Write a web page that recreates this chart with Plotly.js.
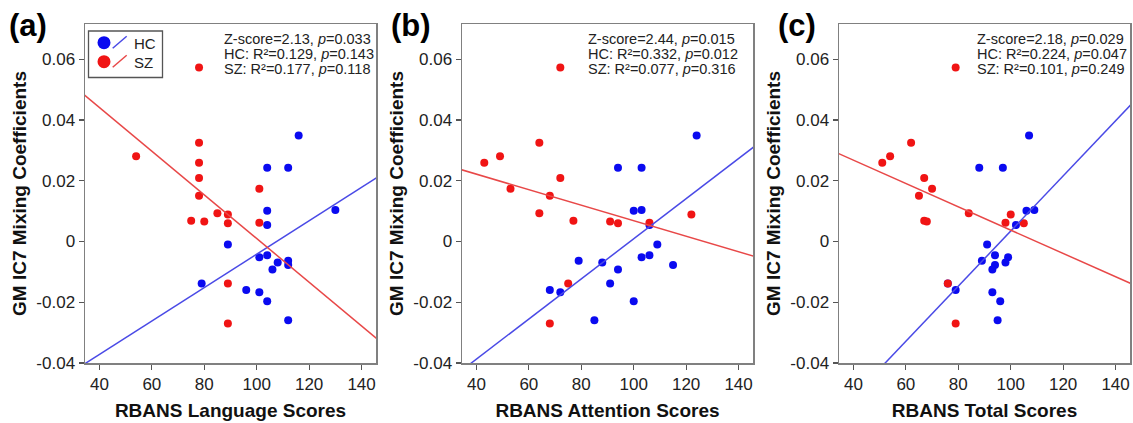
<!DOCTYPE html>
<html>
<head>
<meta charset="utf-8">
<script src="https://cdn.plot.ly/plotly-3.0.1.min.js"></script>
<style>html,body{margin:0;padding:0;background:#fff;}#chart{width:1133px;height:423px;}</style>
</head>
<body>
<div id="chart"></div>
<script>
// ---- Data ----
// GM IC7 mixing coefficients (same subjects in all panels)
const hcCoef = [0.0349, 0.0243, 0.0243, 0.0104, 0.0101, 0.0054, -0.0010, -0.0045, -0.0052, -0.0063, -0.0069, -0.0077, -0.0092, -0.0138, -0.0160, -0.0167, -0.0197, -0.0259];
const hcLanguage  = [116, 104, 112, 130, 104, 104, 89, 104, 101, 112, 108, 112, 106, 79, 96, 101, 104, 112];
const hcAttention = [124, 94, 103, 103, 100, 106, 109, 106, 103, 79, 88, 115, 94, 91, 68, 72, 100, 85];
const hcTotal     = [107, 88, 97, 109, 106, 102, 91, 94, 99, 89, 98, 94, 93, 76, 79, 93, 96, 95];

const szCoef = [0.0573, 0.0325, 0.0281, 0.0259, 0.0209, 0.0174, 0.0151, 0.0093, 0.0089, 0.0068, 0.0066, 0.0062, 0.0060, -0.0138, -0.0270];
const szLanguage  = [78, 78, 54, 78, 78, 101, 78, 85, 89, 75, 80, 101, 89, 89, 89];
const szAttention = [72, 64, 49, 43, 72, 53, 68, 64, 122, 77, 91, 106, 94, 75, 68];
const szTotal     = [79, 62, 54, 51, 67, 70, 65, 84, 100, 67, 68, 98, 105, 76, 79];

const panelLetters = ['(a)', '(b)', '(c)'];
const xTitles = ['RBANS Language Scores', 'RBANS Attention Scores', 'RBANS Total Scores'];
const yTitle = 'GM IC7 Mixing Coefficients';
const zScore = ['2.13', '2.44', '2.18'];
const zP     = ['0.033', '0.015', '0.029'];
const hcR2   = ['0.129', '0.332', '0.224'];
const hcP    = ['0.143', '0.012', '0.047'];
const szR2   = ['0.177', '0.077', '0.101'];
const szP    = ['0.118', '0.316', '0.249'];

const xTickVals = [40, 60, 80, 100, 120, 140];
const yTickVals = [-0.04, -0.02, 0, 0.02, 0.04, 0.06];
const yTickText = ['-0.04', '-0.02', '0', '0.02', '0.04', '0.06'];
const groupNames = ['HC', 'SZ'];

// ---- Styling ----
const W = 1133, H = 423;
const FONT = 'Liberation Sans, Arial, Helvetica, sans-serif';
const BLUE = '#0a0af0', RED = '#f01414';
const BLUE_LINE = '#4a4ae6', RED_LINE = '#e84848';
const X_RANGE = [34.5, 145.5], Y_RANGE = [-0.04, 0.0716];
const px = x => x / W;
const py = y => 1 - y / H;
const plotLeft = [85, 462, 839], plotWidth = 291, plotTop = 24, plotBottom = 363;
const statsX = [0.470, 0.427, 0.466];

function fit(xs, ys) {
  const n = xs.length;
  const mx = xs.reduce((a, b) => a + b, 0) / n;
  const my = ys.reduce((a, b) => a + b, 0) / n;
  let sxy = 0, sxx = 0;
  for (let i = 0; i < n; i++) { sxy += (xs[i] - mx) * (ys[i] - my); sxx += (xs[i] - mx) ** 2; }
  const b = sxy / sxx, a = my - b * mx;
  const lx = [X_RANGE[0] - 5, X_RANGE[1] + 5];
  return { x: lx, y: lx.map(v => a + b * v) };
}

const hcX = [hcLanguage, hcAttention, hcTotal];
const szX = [szLanguage, szAttention, szTotal];

const traces = [];
const layout = {
  width: W, height: H,
  margin: { l: 0, r: 0, t: 0, b: 0, pad: 0 },
  paper_bgcolor: '#fff', plot_bgcolor: '#fff',
  showlegend: false,
  font: { family: FONT, color: '#222' },
  annotations: [], shapes: []
};

for (let p = 0; p < 3; p++) {
  const sfx = p === 0 ? '' : String(p + 1);
  const xa = 'x' + sfx, ya = 'y' + sfx;
  traces.push({ type: 'scatter', mode: 'markers', name: groupNames[0], x: hcX[p], y: hcCoef, xaxis: xa, yaxis: ya,
    marker: { color: BLUE, size: 8 }, hoverinfo: 'x+y' });
  traces.push({ type: 'scatter', mode: 'markers', name: groupNames[1], x: szX[p], y: szCoef, xaxis: xa, yaxis: ya,
    marker: { color: RED, size: 8 }, hoverinfo: 'x+y' });
  const fh = fit(hcX[p], hcCoef), fs = fit(szX[p], szCoef);
  traces.push({ type: 'scatter', mode: 'lines', name: groupNames[0] + ' fit', x: fh.x, y: fh.y, xaxis: xa, yaxis: ya,
    line: { color: BLUE_LINE, width: 1.5 }, hoverinfo: 'skip' });
  traces.push({ type: 'scatter', mode: 'lines', name: groupNames[1] + ' fit', x: fs.x, y: fs.y, xaxis: xa, yaxis: ya,
    line: { color: RED_LINE, width: 1.5 }, hoverinfo: 'skip' });

  layout['xaxis' + sfx] = {
    domain: [px(plotLeft[p]), px(plotLeft[p] + plotWidth)], range: X_RANGE, anchor: ya,
    tickmode: 'array', tickvals: xTickVals, ticks: 'outside', ticklen: 5, tickwidth: 1.2, tickcolor: '#555',
    showline: true, mirror: true, linecolor: '#808080', linewidth: 1.5,
    showgrid: false, zeroline: false,
    tickfont: { family: FONT, size: 17, color: '#222' },
    title: { text: xTitles[p], font: { family: FONT, size: 19, color: '#111', weight: 'bold' }, standoff: 11 }
  };
  layout['yaxis' + sfx] = {
    domain: [py(plotBottom), py(plotTop)], range: Y_RANGE, anchor: xa,
    tickmode: 'array', tickvals: yTickVals, ticktext: yTickText, ticks: 'outside', ticklen: 5, tickwidth: 1.2, tickcolor: '#555',
    showline: true, mirror: true, linecolor: '#808080', linewidth: 1.5,
    showgrid: false, zeroline: false,
    tickfont: { family: FONT, size: 17, color: '#222' },
    title: { text: yTitle, font: { family: FONT, size: 19, color: '#111', weight: 'bold' }, standoff: 4 }
  };

  const statLines = [
    'Z-score=' + zScore[p] + ', <i>p</i>=' + zP[p],
    'HC: R\u00b2=' + hcR2[p] + ', <i>p</i>=' + hcP[p],
    'SZ: R\u00b2=' + szR2[p] + ', <i>p</i>=' + szP[p]
  ];
  const lineY = [39, 54.3, 69.3];
  statLines.forEach((t, i) => {
    layout.annotations.push({
      xref: xa + ' domain', yref: 'paper', x: statsX[p], y: py(lineY[i]),
      xanchor: 'left', yanchor: 'middle', align: 'left', showarrow: false,
      text: t, font: { family: FONT, size: 14.5, color: '#222' }
    });
  });

  // panel letter
  const letterX = [28, 411, 797];
  layout.annotations.push({
    xref: 'paper', yref: 'paper', x: px(letterX[p]), y: py(26), xanchor: 'center', yanchor: 'middle',
    showarrow: false, text: panelLetters[p], font: { family: FONT, size: 31, color: '#000', weight: 'bold' }
  });
}

// legend (panel a)
layout.shapes.push({ type: 'rect', xref: 'paper', yref: 'paper', x0: px(88.5), x1: px(162.5), y0: py(77.5), y1: py(31),
  line: { color: '#555', width: 1.3 }, fillcolor: 'rgba(0,0,0,0)' });
const legendRows = [{ cy: 42.7, color: BLUE, lcolor: BLUE_LINE }, { cy: 61.7, color: RED, lcolor: RED_LINE }];
legendRows.forEach((r, i) => {
  layout.shapes.push({ type: 'circle', xref: 'paper', yref: 'paper', x0: px(97.5), x1: px(110.5), y0: py(r.cy + 6.5), y1: py(r.cy - 6.5),
    line: { color: r.color, width: 0 }, fillcolor: r.color });
  layout.shapes.push({ type: 'line', xref: 'paper', yref: 'paper', x0: px(112.7), x1: px(126.7), y0: py(r.cy + 5.5), y1: py(r.cy - 6.5),
    line: { color: r.lcolor, width: 1.5 } });
  layout.annotations.push({ xref: 'paper', yref: 'paper', x: px(132), y: py(r.cy + 0.8), xanchor: 'left', yanchor: 'middle',
    showarrow: false, text: groupNames[i], font: { family: FONT, size: 15, color: '#222' } });
});

Plotly.newPlot('chart', traces, layout, { staticPlot: true, displayModeBar: false });
</script>
</body>
</html>
